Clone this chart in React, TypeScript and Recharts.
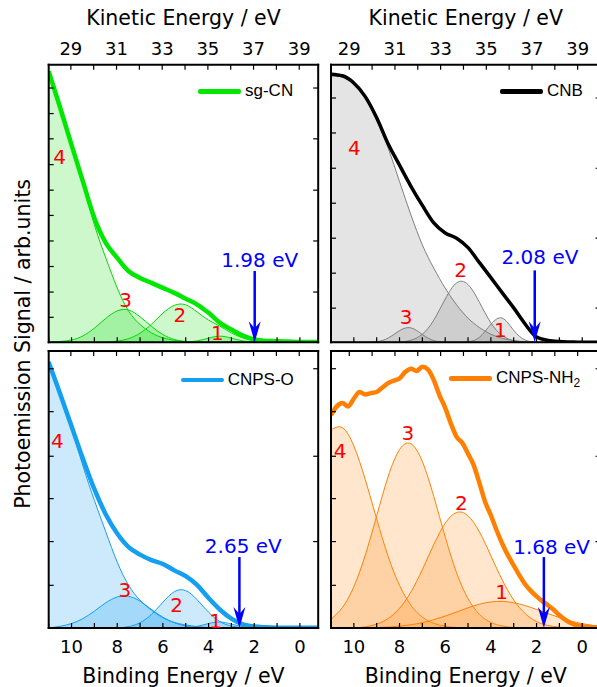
import { ComposedChart, Area, Line, XAxis, YAxis, ReferenceDot, ReferenceLine, Legend } from 'recharts'

// binding energy grid (eV) the fitted components are read on
const BE = [11, 10.5, 10, 9.5, 9, 8.5, 8, 7.5, 7, 6.5, 6, 5.5, 5, 4.5, 4, 3.5, 3, 2.5, 2, 1.5, 1, 0.5, 0, -0.5, -0.8]
// finer grid for the noisy CNPS-NH2 spectrum
const BE_FINE = [11, 10.75, 10.5, 10.25, 10, 9.75, 9.5, 9.25, 9, 8.75, 8.5, 8.25, 8, 7.75, 7.5, 7.25, 7, 6.75, 6.5, 6.25, 6, 5.75, 5.5, 5.25, 5, 4.75, 4.5, 4.25, 4, 3.75, 3.5, 3.25, 3, 2.75, 2.5, 2.25, 2, 1.75, 1.5, 1.25, 1, 0.75, 0.5, 0.25, 0, -0.25, -0.5, -0.8]

const BE_TICKS = [0, 1, 2, 3, 4, 5, 6, 7, 8, 9, 10, 11]
const KE_TICKS = [28, 29, 30, 31, 32, 33, 34, 35, 36, 37, 38, 39]

// signal in % of panel height
const SGCN_EXP = [97.6, 84.6, 71.1, 57.9, 44.8, 35.8, 30.4, 25.6, 23.2, 21.4, 19.6, 17.8, 15.7, 13.6, 10.6, 7.0, 4.6, 2.4, 1.0, 0.5, 0.4, 0.25, 0.1, 0.1, 0.1]
const SGCN_C1 = [0, 0, 0, 0, 0, 0, 0, 0, 0, 0, 0, 0, 0.1, 0.5, 1.5, 2.2, 1.5, 0.5, 0.1, 0, 0, 0, 0, 0, 0]
const SGCN_C2 = [0, 0, 0, 0, 0, 0, 0.4, 1.3, 3.3, 6.5, 10.5, 13.3, 13.5, 10.9, 8.0, 5.8, 3.4, 1.6, 0.6, 0.2, 0, 0, 0, 0, 0]
const SGCN_C3 = [0, 0.3, 0.8, 2.3, 5.1, 8.6, 11.3, 11.6, 9.2, 5.7, 2.8, 1.0, 0.3, 0.1, 0, 0, 0, 0, 0, 0, 0, 0, 0, 0, 0]
const SGCN_C4 = [97, 84.4, 71.0, 57.5, 42.4, 30.4, 19.6, 11.2, 6.4, 3.4, 1.6, 0.7, 0.2, 0, 0, 0, 0, 0, 0, 0, 0, 0, 0, 0, 0]

const CNB_EXP = [96.6, 96.0, 93.4, 88.5, 80.9, 71.5, 63.8, 56.2, 49.3, 43.0, 39.4, 37.5, 34.1, 28.7, 23.3, 17.8, 12.4, 6.6, 1.9, 0.7, 0.25, 0.1, 0, 0, 0]
const CNB_C1 = [0, 0, 0, 0, 0, 0, 0, 0, 0, 0, 0, 0, 0.2, 1.8, 6.5, 8.7, 4.3, 0.8, 0.05, 0, 0, 0, 0, 0, 0]
const CNB_C2 = [0, 0, 0, 0, 0, 0, 0, 0.75, 2.9, 8.0, 15.6, 21.4, 20.8, 14.4, 7.0, 2.4, 0.6, 0.1, 0, 0, 0, 0, 0, 0, 0]
const CNB_C3 = [0, 0, 0, 0, 0.24, 1.5, 4.2, 5.2, 2.8, 0.6, 0.1, 0, 0, 0, 0, 0, 0, 0, 0, 0, 0, 0, 0, 0, 0]
const CNB_C4 = [96.0, 95.5, 93.0, 87.8, 80.0, 70.0, 57.9, 45.9, 35.1, 26.7, 19.5, 13.5, 8.7, 5.3, 2.9, 1.4, 0.6, 0.25, 0, 0, 0, 0, 0, 0, 0]

const CNPSO_EXP = [96.0, 84.6, 72.8, 61.1, 50.1, 41.0, 34.1, 29.2, 26.5, 24.5, 23.1, 20.8, 18.7, 15.5, 10.8, 6.6, 3.4, 1.3, 0.5, 0.25, 0.1, 0.05, 0.05, 0.05, 0.05]
const CNPSO_C1 = [0, 0, 0, 0, 0, 0, 0, 0, 0, 0, 0, 0, 0.1, 0.6, 1.6, 2.2, 1.4, 0.5, 0.1, 0, 0, 0, 0, 0, 0]
const CNPSO_C2 = [0, 0, 0, 0, 0, 0, 0, 0.5, 1.9, 4.9, 9.3, 13.1, 13.5, 10.2, 5.7, 2.3, 0.7, 0.15, 0, 0, 0, 0, 0, 0, 0]
const CNPSO_C3 = [0, 0.6, 1.6, 3.4, 6.1, 9.1, 11.2, 11.4, 9.7, 6.7, 3.9, 1.9, 0.7, 0.25, 0.1, 0, 0, 0, 0, 0, 0, 0, 0, 0, 0]
const CNPSO_C4 = [95.5, 84.0, 72.0, 58.5, 46.1, 34.7, 23.8, 15.4, 10.0, 6.4, 3.7, 2.0, 1.1, 0.5, 0.2, 0.1, 0, 0, 0, 0, 0, 0, 0, 0, 0]

const NH2_EXP = [76.8, 80.0, 81.2, 80.0, 82.8, 85.2, 84.3, 84.8, 85.2, 86.8, 88.4, 89.3, 90.1, 92.4, 93.6, 92.8, 94.3, 93.3, 89.5, 84.0, 79.5, 73.8, 69.0, 66.8, 62.9, 58.7, 52.3, 45.5, 40.7, 35.3, 30.4, 26.2, 22.6, 19.0, 15.8, 13.4, 11.4, 9.7, 8.2, 6.6, 4.6, 3.0, 1.8, 1.0, 0.6, 0.4, 0.25, 0.25]
const NH2_C1 = [0, 0, 0.03, 0.08, 0.17, 0.35, 0.65, 1.2, 1.9, 3.0, 4.3, 5.8, 7.3, 8.6, 9.4, 9.6, 9.1, 8.1, 6.7, 5.2, 3.8, 2.5, 1.6, 0.9, 0.65]
const NH2_C2 = [0, 0, 0.1, 0.4, 1.4, 3.4, 7.1, 13.0, 21.1, 30.1, 37.8, 41.7, 40.5, 34.7, 26.1, 17.3, 10.1, 5.2, 2.3, 0.9, 0.3, 0.1, 0, 0, 0]
const NH2_C3 = [3.2, 7.4, 14.9, 26.3, 40.5, 54.6, 64.4, 66.5, 60.1, 47.5, 32.9, 19.9, 10.6, 4.9, 2.0, 0.7, 0.2, 0, 0, 0, 0, 0, 0, 0, 0]
const NH2_C4 = [71.5, 72.3, 65.7, 53.6, 39.4, 25.9, 15.4, 8.2, 3.9, 1.7, 0.6, 0.2, 0.05, 0, 0, 0, 0, 0, 0, 0, 0, 0, 0, 0, 0]

const NAMES = ['sg-CN', 'CNB', 'CNPS-O', 'CNPS-NH']
const NAME_SUBS = ['', '', '', '2']
const GAPS = [1.98, 2.08, 2.65, 1.68] // eV, marked by the arrows

const FONT = '"DejaVu Sans", Verdana, sans-serif'
const LEGEND_FONT = '"Liberation Sans", Arial, sans-serif'
const PLOT_W = 269.5
const AXIS = { stroke: '#000', strokeWidth: 2, strokeLinecap: 'square' as const }
const TICK = { stroke: '#000', strokeWidth: 1.2 }

const PANELS = [
  {
    exp: SGCN_EXP, expBE: BE, comps: [SGCN_C1, SGCN_C2, SGCN_C3, SGCN_C4],
    color: '#00e800', thin: '#00d800', fill: '#00dd00', alpha: 0.2, lineW: 4.5,
    keOff: 39.03, labels: [[3.62, 3.35], [5.26, 9.7], [7.63, 15.1], [10.52, 66.8]],
    gapText: [1.76, 29.8], arrowTop: 25.7, legend: [198, 91.3],
    ticksL: [9.0, 18.1, 27.3, 36.5, 45.7, 54.8, 64.0, 73.3, 82.4, 91.6], ticksR: [18.1, 36.5, 54.8, 73.3, 91.6],
  },
  {
    exp: CNB_EXP, expBE: BE, comps: [CNB_C1, CNB_C2, CNB_C3, CNB_C4],
    color: '#000000', thin: '#7f7f7f', fill: '#7a7a7a', alpha: 0.2, lineW: 3.5,
    keOff: 39.2, labels: [[3.58, 4.4], [5.33, 26.1], [7.71, 9.3], [9.98, 70.2]],
    gapText: [1.85, 30.9], arrowTop: 25.9, legend: [500, 91.3],
    ticksL: [12.3, 24.9, 37.5, 50.1, 62.7, 75.4, 88.0], ticksR: [12.3, 37.5, 62.7, 88.0],
  },
  {
    exp: CNPSO_EXP, expBE: BE, comps: [CNPSO_C1, CNPSO_C2, CNPSO_C3, CNPSO_C4],
    color: '#159ff0', thin: '#159ff0', fill: '#159ff0', alpha: 0.22, lineW: 4.5,
    keOff: 39.03, labels: [[3.69, 2.5], [5.4, 8.2], [7.67, 13.9], [10.62, 67.7]],
    gapText: [2.48, 29.8], arrowTop: 25.6, legend: [180.7, 380],
    ticksL: [15.4, 31.2, 46.7, 62.0, 78.1, 93.6], ticksR: [31.2, 62.0, 93.6],
  },
  {
    exp: NH2_EXP, expBE: BE_FINE, comps: [NH2_C1, NH2_C2, NH2_C3, NH2_C4],
    color: '#ff7f00', thin: '#ff8000', fill: '#ff8c1a', alpha: 0.22, lineW: 4.5,
    keOff: 39.2, labels: [[3.53, 13.0], [5.29, 45.1], [7.63, 70.4], [10.6, 64.1]],
    gapText: [1.34, 29.2], arrowTop: 25.6, legend: [449, 378.3],
    ticksL: [15.4, 31.2, 46.7, 62.0, 78.1, 93.6], ticksR: [31.2, 62.0, 93.6],
  },
]

function ArrowHead(props: any) {
  const { cx, cy } = props
  return <path d={`M${cx},${cy} L${cx - 6},${cy - 21} L${cx},${cy - 14} L${cx + 6},${cy - 21} Z`} fill="#0000ff" />
}

function Panel({ idx }: { idx: number }) {
  const p = PANELS[idx]
  const col = idx % 2
  const row = Math.floor(idx / 2)
  const plotX = col === 0 ? 48.7 : 331
  const plotY = row === 0 ? 64.7 : 351.3
  const plotH = row === 0 ? 277.6 : 277
  const padL = col === 0 ? 48.7 : 6
  const padR = 6
  const padT = row === 0 ? 64.7 : 6
  const padB = row === 0 ? 6 : 58.7
  const left = plotX - padL
  const top = plotY - padT

  const rows = BE.map((be, i) => ({ be, c1: p.comps[0][i], c2: p.comps[1][i], c3: p.comps[2][i], c4: p.comps[3][i] }))
  const expRows = p.expBE.map((be, i) => ({ be, y: p.exp[i] }))
  const keTicks = KE_TICKS.map((k) => p.keOff - k).filter((b) => b <= 11 && b >= -0.8)

  return (
    <div style={{ position: 'absolute', left, top }}>
      <ComposedChart width={padL + PLOT_W + padR} height={padT + plotH + padB} data={rows}
        margin={{ top: 0, right: 0, bottom: 0, left: 0 }}>
        <XAxis xAxisId="b" dataKey="be" type="number" domain={[-0.8, 11]} reversed allowDataOverflow
          ticks={BE_TICKS} interval={0} height={padB} tickSize={-5} tickMargin={17}
          axisLine={AXIS} tickLine={TICK} tick={{ fontSize: 18, fill: '#000', fontFamily: FONT }}
          tickFormatter={(v: number) => (row === 1 && v % 2 === 0 && v <= 10 ? String(v) : '')}
          label={row === 1 ? { value: 'Binding Energy / eV', position: 'insideBottom', offset: 4, fontSize: 20.5, fill: '#000', fontFamily: FONT } : undefined} />
        <XAxis xAxisId="t" dataKey="be" orientation="top" type="number" domain={[-0.8, 11]} reversed allowDataOverflow
          ticks={keTicks} interval={0} height={padT} tickSize={-5} tickMargin={15}
          axisLine={AXIS} tickLine={TICK} tick={{ fontSize: 18, fill: '#000', fontFamily: FONT }}
          tickFormatter={(v: number) => {
            const ke = Math.round(p.keOff - v)
            return row === 0 && ke % 2 === 1 ? String(ke) : ''
          }}
          label={row === 0 ? { value: 'Kinetic Energy / eV', position: 'insideTop', offset: 10, fontSize: 20.5, fill: '#000', fontFamily: FONT } : undefined} />
        <YAxis yAxisId="l" type="number" domain={[0, 100]} allowDataOverflow ticks={p.ticksL} interval={0}
          width={padL} tickSize={-5} axisLine={AXIS} tickLine={TICK} tickFormatter={() => ''} />
        <YAxis yAxisId="r" orientation="right" type="number" domain={[0, 100]} allowDataOverflow ticks={p.ticksR} interval={0}
          width={padR} tickSize={-5} axisLine={AXIS} tickLine={TICK} tickFormatter={() => ''} />

        {[3, 2, 1, 0].map((k) => (
          <Area key={k} xAxisId="b" yAxisId="l" dataKey={`c${k + 1}`} type="natural"
            stroke={p.thin} strokeWidth={1} fill={p.fill} fillOpacity={p.alpha}
            dot={false} activeDot={false} legendType="none" isAnimationActive={false} />
        ))}
        <Line xAxisId="b" yAxisId="l" data={expRows} dataKey="y" type="monotone" name={NAMES[idx]}
          stroke={p.color} strokeWidth={p.lineW} dot={false} activeDot={false} isAnimationActive={false} />

        {p.labels.map((pos, k) => (
          <ReferenceDot key={`n${k}`} xAxisId="b" yAxisId="l" x={pos[0]} y={pos[1]} r={0} fill="none" stroke="none"
            label={{ value: String(k + 1), position: 'center', fill: '#ff0000', fontSize: 20, fontFamily: FONT }} />
        ))}

        <ReferenceLine xAxisId="b" yAxisId="l" segment={[{ x: GAPS[idx], y: p.arrowTop }, { x: GAPS[idx], y: 3 }]}
          stroke="#0000ff" strokeWidth={2.5} />
        <ReferenceDot xAxisId="b" yAxisId="l" x={GAPS[idx]} y={0} r={1} shape={ArrowHead} />
        <ReferenceDot xAxisId="b" yAxisId="l" x={p.gapText[0]} y={p.gapText[1]} r={0} fill="none" stroke="none"
          label={{ value: `${GAPS[idx].toFixed(2)} eV`, position: 'center', fill: '#0000ff', fontSize: 20, fontFamily: FONT }} />

        <Legend verticalAlign="middle" align="center" layout="horizontal"
          wrapperStyle={{ left: p.legend[0] - left, top: p.legend[1] - 10 - top, width: 'auto', height: 20 }}
          content={() => (
            <div style={{ display: 'flex', alignItems: 'center', height: 20, fontFamily: LEGEND_FONT, fontSize: 17, whiteSpace: 'nowrap', color: '#000' }}>
              <span style={{ display: 'inline-block', width: 43, height: 4.5, borderRadius: 2, background: p.color, marginRight: 4 }} />
              <span>
                {NAMES[idx]}
                {NAME_SUBS[idx] && <sub style={{ fontSize: 12, lineHeight: 0 }}>{NAME_SUBS[idx]}</sub>}
              </span>
            </div>
          )} />
      </ComposedChart>
    </div>
  )
}

export default function App() {
  return (
    <div style={{ position: 'absolute', left: 0, top: 0, width: 597, height: 687, overflow: 'hidden', background: '#fff' }}>
      {[0, 1, 2, 3].map((i) => <Panel key={i} idx={i} />)}
      <svg width={60} height={687} style={{ position: 'absolute', left: 0, top: 0, pointerEvents: 'none' }}>
        <text transform="translate(29.5,344) rotate(-90)" textAnchor="middle" fontSize={20.5} fontFamily={FONT} fill="#000">
          Photoemission Signal / arb.units
        </text>
      </svg>
    </div>
  )
}
